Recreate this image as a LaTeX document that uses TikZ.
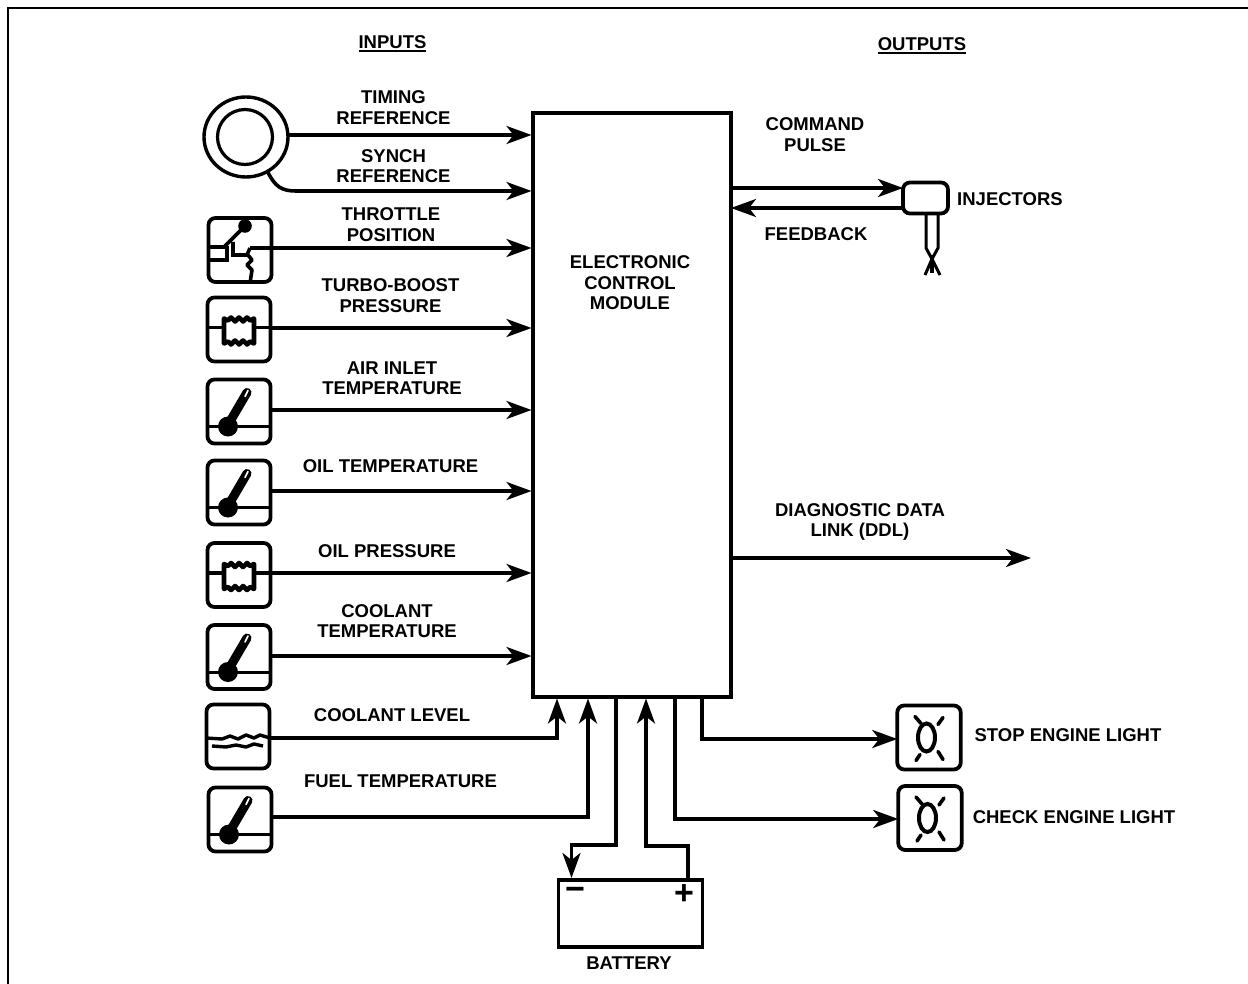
\documentclass[tikz,border=0pt]{standalone}
\usepackage{fontspec}
\setmainfont{Liberation Sans}
\usetikzlibrary{arrows.meta,shapes.geometric}
\newcommand\ulbf[1]{\setbox0\hbox{#1}\rlap{\rule[-3.2pt]{\wd0}{2pt}}\box0}
\tikzset{
  x=1pt,y=-1pt,
  every node/.style={inner sep=0pt,outer sep=0pt},
  wire/.style={line width=3.6pt,line join=miter},
  thin wire/.style={line width=3pt},
  arr/.style={wire,-{Stealth[length=25pt,width=18pt,inset=7pt]}},
  sensorbox/.style={draw,line width=3.8pt,rounded corners=7pt,minimum width=63pt,minimum height=64pt},
  lampbox/.style={sensorbox,minimum width=63.5pt},
  lbl/.style={font=\fontsize{18.5}{20.5}\selectfont\bfseries,align=center,text=black},
  thermo/.pic={
    \draw[thin wire] (-33,15) -- (33,15);
    \fill (-11,15) circle (10);
    \draw[line width=9pt,line cap=round] (-9,10) -- (8,-19);
    \draw[white,line width=1.6pt,line cap=round] (9,-21) -- (6,-15);
  },
  bellows/.pic={
    \draw[line width=4.6pt,line join=round,fill=white] (-15,-15)
      -- (-11,-13) -- (-8,-16) -- (-4,-12) -- (0,-16) -- (4,-12) -- (8,-16) -- (11,-13) -- (15,-15)
      -- (15,10) -- (11,8) -- (8,11) -- (4,7) -- (0,11) -- (-4,7) -- (-8,11) -- (-11,8) -- (-15,10) -- cycle;
    \draw[wire] (-33,-6) -- (-15,-6);
    \draw[wire] (15,-6) -- (33,-6);
  },
  lamp/.pic={
    \draw[line width=4pt] (-2.5,0) ellipse (8.5 and 14);
    \draw[wire,line cap=round] (-14,-21) -- (-8,-14);
    \draw[wire,line cap=round] (14,-20) -- (9,-13);
    \draw[wire,line cap=round] (-13,23) -- (-9,17);
    \draw[wire,line cap=round] (14,22) -- (9,14);
  },
}
\begin{document}
\begin{tikzpicture}
\useasboundingbox (0,0) rectangle (1248,984);
% frame
\coordinate (f1) at (1248,8);
\coordinate (f2) at (8,8);
\coordinate (f3) at (8,984);
\draw[line width=2.8pt] (f1) -- (f2) -- (f3);

% control module
\node[draw,line width=3.6pt,minimum width=198pt,minimum height=584pt] (ecm) at (632,405) {};
\node[lbl] at (630,283) {ELECTRONIC\\CONTROL\\MODULE};

% headings
\node[lbl] at (392.5,44) {\ulbf{INPUTS}};
\node[lbl] at (922,46) {\ulbf{OUTPUTS}};

% end points on the module
\foreach \n/\y in {e1/135,e2/191,e3/248,e4/328,e5/410,e6/491,e7/573,e8/656}
  \coordinate (\n) at (531.5,\y);

% timing wheel
\node[draw,ellipse,line width=3.4pt,minimum width=84pt,minimum height=80pt] (wheel) at (246,137) {};
\node[draw,circle,line width=3.2pt,minimum size=55pt] (hub) at (245,137) {};
\coordinate (w2) at (296,191);
\draw[arr] (wheel.east |- e1) -- (e1);
\draw[wire] (wheel.-58) .. controls (275,187) and (282,191) .. (w2);
\draw[arr] (w2) -- (e2);
\node[lbl] at (393.5,107.5) {TIMING\\REFERENCE};
\node[lbl] at (393.5,166) {SYNCH\\REFERENCE};

% throttle position
\node[sensorbox] (thr) at (240,250) {};
\coordinate (t1) at (250,248);
\fill (245,226) circle (6.8);
\draw[wire] (245,226) -- (224,247) -- (208,247);
\draw[wire] (227,246) -- (227,260) -- (208,260);
\draw[wire] (233,242) -- (233,255) -- (247,255) -- (t1);
\draw[wire,line join=round] (248,255) -- (252,260) -- (247,265) -- (252,270) -- (250,283);
\draw[arr] (t1) -- (e3);
\node[lbl] at (391,224.5) {THROTTLE\\POSITION};

% turbo-boost pressure
\node[sensorbox] (turbo) at (239,329.5) {};
\pic at (239,333.5) {bellows};
\draw[arr] (turbo.east |- e4) -- (e4);
\node[lbl] at (390.5,295.5) {TURBO-BOOST\\PRESSURE};

% air inlet temperature
\node[sensorbox] (air) at (239,411.5) {};
\pic at (239,411.5) {thermo};
\draw[arr] (air.east |- e5) -- (e5);
\node[lbl] at (392,378) {AIR INLET\\TEMPERATURE};

% oil temperature
\node[sensorbox] (oilt) at (239,492.5) {};
\pic at (239,492.5) {thermo};
\draw[arr] (oilt.east |- e6) -- (e6);
\node[lbl] at (390.5,466.5) {OIL TEMPERATURE};

% oil pressure
\node[sensorbox] (oilp) at (239,575) {};
\pic at (239,579) {bellows};
\draw[arr] (oilp.east |- e7) -- (e7);
\node[lbl] at (387,551) {OIL PRESSURE};

% coolant temperature
\node[sensorbox] (cool) at (239,657) {};
\pic at (239,657) {thermo};
\draw[arr] (cool.east |- e8) -- (e8);
\node[lbl] at (387,621) {COOLANT\\TEMPERATURE};

% coolant level
\node[sensorbox] (lev) at (238,736.5) {};
\draw[line width=3.4pt,line join=round] (206,738) -- (222,739) -- (230,736) -- (238,739) -- (246,735) -- (254,738) -- (260,735) -- (270,738);
\draw[line width=3.4pt,line join=round] (212,746) -- (226,747) -- (236,745) -- (246,747) -- (254,744) -- (263,746);
\coordinate (l1) at (557,738);
\coordinate (l2) at (557,698.5);
\draw[arr] (lev.east |- l1) -- (l1) -- (l2);
\node[lbl] at (392,715.5) {COOLANT LEVEL};

% fuel temperature
\node[sensorbox] (fuel) at (240,819.5) {};
\pic at (240,819.5) {thermo};
\coordinate (u1) at (588,817);
\coordinate (u2) at (588,698.5);
\draw[arr] (fuel.east |- u1) -- (u1) -- (u2);
\node[lbl] at (400.5,781.5) {FUEL TEMPERATURE};

% battery
\node[draw,line width=3.6pt,minimum width=144pt,minimum height=67pt] (bat) at (630.5,913.5) {};
\node[font=\fontsize{34}{34}\selectfont\bfseries] at (575,894) {−};
\node[font=\fontsize{34}{34}\selectfont\bfseries] at (684,895) {+};
\node[lbl] at (629,963) {BATTERY};
\coordinate (b1) at (616,697);
\coordinate (b2) at (616,845);
\coordinate (b3) at (571.5,845);
\coordinate (b4) at (571.5,878);
\draw[arr] (b1) -- (b2) -- (b3) -- (b4);
\coordinate (b5) at (688,878);
\coordinate (b6) at (688,846);
\coordinate (b7) at (646,846);
\coordinate (b8) at (646,698.5);
\draw[arr] (b5) -- (b6) -- (b7) -- (b8);

% injectors
\node[draw,line width=3.8pt,rounded corners=7pt,minimum width=45pt,minimum height=31pt] (inj) at (925.5,198) {};
\coordinate (i1) at (731,188);
\coordinate (i2) at (731,208);
\draw[arr] (i1) -- (inj.west |- i1);
\draw[arr] (inj.west |- i2) -- (i2);
\draw[thin wire] (926,214) -- (926,248) -- (932,259) -- (925,275);
\draw[thin wire] (938,214) -- (938,248) -- (932,259) -- (940,275);
\draw[line width=3.6pt] (932,255) -- (932,273);
\node[lbl] at (815,134.5) {COMMAND\\PULSE};
\node[lbl] at (816,234.5) {FEEDBACK};
\node[lbl] at (1010,199.5) {INJECTORS};

% diagnostic data link
\coordinate (d1) at (731,558);
\coordinate (d2) at (1031,558);
\draw[arr] (d1) -- (d2);
\node[lbl] at (860,522) {DIAGNOSTIC DATA\\LINK (DDL)};

% lights
\node[lampbox] (stop) at (929,737.5) {};
\pic at (929,737.5) {lamp};
\node[lampbox] (chk) at (930,818) {};
\pic at (930,818) {lamp};
\coordinate (s1) at (702,697);
\coordinate (s2) at (702,739);
\draw[arr] (s1) -- (s2) -- (stop.west |- s2);
\coordinate (c1) at (675,697);
\coordinate (c2) at (675,819);
\draw[arr] (c1) -- (c2) -- (chk.west |- c2);
\node[lbl] at (1068,735.5) {STOP ENGINE LIGHT};
\node[lbl] at (1074,817.5) {CHECK ENGINE LIGHT};
\end{tikzpicture}
\end{document}
